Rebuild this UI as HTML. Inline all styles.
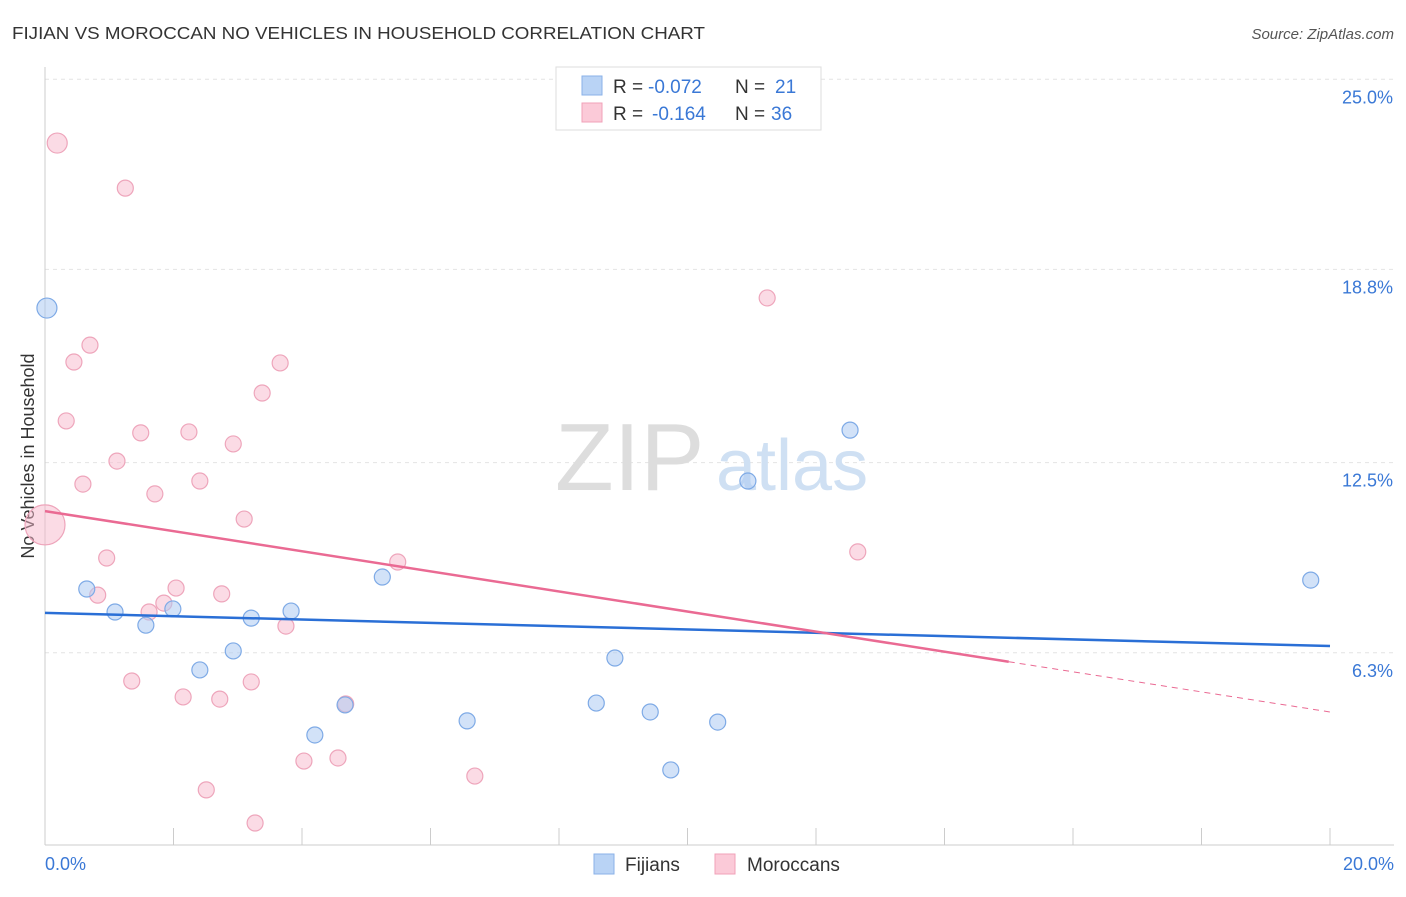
<!DOCTYPE html>
<html><head><meta charset="utf-8"><style>
body{margin:0;background:#fff;font-family:"Liberation Sans",sans-serif;}
svg text{font-family:"Liberation Sans",sans-serif;}
</style></head><body>
<svg width="1406" height="892" viewBox="0 0 1406 892" xmlns="http://www.w3.org/2000/svg">
<text x="12" y="39" font-size="17.5" fill="#333" textLength="693" lengthAdjust="spacingAndGlyphs">FIJIAN VS MOROCCAN NO VEHICLES IN HOUSEHOLD CORRELATION CHART</text>
<text x="1394" y="39" font-size="15" fill="#555" text-anchor="end" font-style="italic">Source: ZipAtlas.com</text>
<g id="grid"></g>
<g id="ticks"></g>
<g><text x="555" y="490" font-size="96" fill="#ddd" font-family="Liberation Serif">ZIP</text><text x="716" y="490" font-size="72" fill="#cfe0f3">atlas</text></g>
<line x1="45" y1="67" x2="45" y2="845" stroke="#ccc"/>
<line x1="45" y1="845" x2="1394" y2="845" stroke="#ccc"/>
<g id="xt"></g>
<text x="45" y="870" font-size="18" fill="#3a78d6">0.0%</text>
<text x="1394" y="870" font-size="18" fill="#3a78d6" text-anchor="end">20.0%</text>
<text transform="translate(34,456) rotate(-90)" font-size="18" fill="#333" text-anchor="middle">No Vehicles in Household</text>
<g id="pts"></g>
<g id="lines"></g>
<g>
<rect x="556" y="67" width="265" height="63" fill="#fff" stroke="#ddd"/>
<rect x="582" y="76" width="20" height="19" fill="#b9d3f5" stroke="#8ab2e8"/>
<rect x="582" y="103" width="20" height="19" fill="#fbcad8" stroke="#f0a1b8"/>
<text x="613" y="93" font-size="19" fill="#333">R =</text>
<text x="648" y="93" font-size="19" fill="#3a78d6">-0.072</text>
<text x="735" y="93" font-size="19" fill="#333">N =</text>
<text x="775" y="93" font-size="19" fill="#3a78d6">21</text>
<text x="613" y="120" font-size="19" fill="#333">R =</text>
<text x="652" y="120" font-size="19" fill="#3a78d6">-0.164</text>
<text x="735" y="120" font-size="19" fill="#333">N =</text>
<text x="771" y="120" font-size="19" fill="#3a78d6">36</text>
</g>
<g>
<rect x="594" y="854" width="20" height="20" fill="#b9d3f5" stroke="#8ab2e8"/>
<text x="625" y="871" font-size="19" fill="#333">Fijians</text>
<rect x="715" y="854" width="20" height="20" fill="#fbcad8" stroke="#f0a1b8"/>
<text x="747" y="871" font-size="19" fill="#333">Moroccans</text>
</g>
</svg>
<script>
const yTicks=[25.0,18.8,12.5,6.3];
const yTickLabels=["25.0%","18.8%","12.5%","6.3%"];
const fijX=[0.03,0.65,1.09,1.57,1.99,2.41,2.93,3.21,3.83,4.2,4.67,5.25,6.57,8.58,8.87,9.42,9.74,10.47,10.94,12.53,19.7];
const fijY=[17.54,8.38,7.63,7.2,7.73,5.74,6.36,7.43,7.66,3.62,4.6,8.77,4.08,4.66,6.13,4.37,2.48,4.04,11.9,13.56,8.67];
const fijR=[10,8,8,8,8,8,8,8,8,8,8,8,8,8,8,8,8,8,8,8,8];
const morX=[0.19,1.25,11.24,0.7,0.45,3.66,3.38,0.33,1.49,2.24,2.93,1.12,0.59,2.41,1.71,0,3.1,0.96,5.49,12.65,0.82,2.04,2.75,1.85,1.62,3.75,1.35,2.15,2.72,3.21,4.68,4.03,4.56,6.69,2.51,3.27];
const morY=[22.92,21.45,17.87,16.33,15.78,15.75,14.77,13.86,13.47,13.5,13.11,12.55,11.8,11.9,11.48,10.47,10.66,9.39,9.26,9.59,8.18,8.41,8.22,7.92,7.63,7.17,5.38,4.86,4.79,5.35,4.63,2.77,2.87,2.28,1.83,0.75];
const morR=[10,8,8,8,8,8,8,8,8,8,8,8,8,8,8,20,8,8,8,8,8,8,8,8,8,8,8,8,8,8,8,8,8,8,8,8];
const fijTrend=[7.6,6.52];
const morTrend=[10.92,4.37];
const morSolidEnd=15.0;
const X=v=>45+v*64.25, Y=v=>846-v*30.67;
const NS="http://www.w3.org/2000/svg";
function mk(t,a,p){const e=document.createElementNS(NS,t);for(const k in a)e.setAttribute(k,a[k]);p.appendChild(e);return e;}
const grid=document.getElementById('grid'),tk=document.getElementById('ticks');
yTicks.forEach((v,i)=>{
 const l=mk('line',{x1:45,x2:1394,y1:Y(v),y2:Y(v),stroke:'#e4e4e4','stroke-dasharray':'4,4'},grid);
 
 
 const t=mk('text',{x:1393,y:Y(v)+24,'font-size':18,fill:'#3a78d6','text-anchor':'end'},tk);
 t.textContent=yTickLabels[i];
 
 
});
const xt=document.getElementById('xt');
for(let i=1;i<=10;i++){const l=mk('line',{x1:X(i*2),x2:X(i*2),y1:828,y2:845,stroke:'#ccc'},xt);
 
 }
const pts=document.getElementById('pts');
morX.forEach((v,i)=>{const c=mk('circle',{cx:X(v),cy:Y(morY[i]),r:morR[i],fill:'rgba(248,184,204,0.5)',stroke:'#eea5bb','stroke-width':1.2},pts);
 
 });
fijX.forEach((v,i)=>{const c=mk('circle',{cx:X(v),cy:Y(fijY[i]),r:fijR[i],fill:'rgba(173,202,242,0.55)',stroke:'#7eaae6','stroke-width':1.2},pts);
 
 });
const ln=document.getElementById('lines');
const mY=v=>morTrend[0]+(morTrend[1]-morTrend[0])*v/20;
let a=mk('line',{x1:X(0),y1:Y(fijTrend[0]),x2:X(20),y2:Y(fijTrend[1]),stroke:'#2a6fd6','stroke-width':2.5},ln);


let b=mk('line',{x1:X(0),y1:Y(mY(0)),x2:X(morSolidEnd),y2:Y(mY(morSolidEnd)),stroke:'#ea6a93','stroke-width':2.5},ln);


let c=mk('line',{x1:X(morSolidEnd),y1:Y(mY(morSolidEnd)),x2:X(20),y2:Y(mY(20)),stroke:'#ea6a93','stroke-width':1,'stroke-dasharray':'6,5'},ln);


</script>
</body></html>
